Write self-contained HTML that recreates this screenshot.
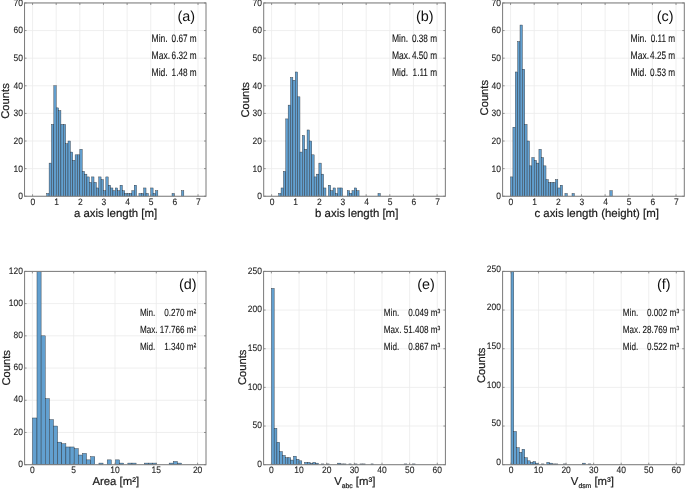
<!DOCTYPE html>
<html><head><meta charset="utf-8"><title>Histograms</title><style>
html,body{margin:0;padding:0;background:#fff;}
body{width:685px;height:489px;overflow:hidden;}
svg{display:block;}
text{font-family:"Liberation Sans", sans-serif;text-rendering:geometricPrecision;}
.tk{font-size:9.3px;fill:#262626;stroke:#262626;stroke-width:0.12px;}
.tkb{font-size:9.2px;fill:#262626;}
.lab{font-size:11.2px;fill:#1a1a1a;stroke:#1a1a1a;stroke-width:0.2px;}
.sub{font-size:6.8px;}
.labx{font-size:11.45px;fill:#1a1a1a;stroke:#1a1a1a;stroke-width:0.2px;}
.labb{font-size:11.35px;fill:#1a1a1a;stroke:#1a1a1a;stroke-width:0.2px;}
.sup{font-size:7.5px;}
.sup2{font-size:6px;}
.stb{font-size:10.3px;fill:#111;stroke:#111;stroke-width:0.1px;}
.let{font-size:14.4px;fill:#111;}
.st{font-size:10.8px;fill:#111;stroke:#111;stroke-width:0.1px;}
</style></head>
<body><svg width="685" height="489" viewBox="0 0 685 489" style="will-change:transform">
<rect width="685" height="489" fill="#fff"/>
<defs><clipPath id="clipa"><rect x="24.55" y="2.95" width="181.45" height="193.3"/></clipPath><clipPath id="clipb"><rect x="263.7" y="2.95" width="181.65" height="193.3"/></clipPath><clipPath id="clipc"><rect x="502.6" y="2.95" width="181.7" height="193.3"/></clipPath><clipPath id="clipd"><rect x="24.6" y="271.4" width="181.4" height="193.3"/></clipPath><clipPath id="clipe"><rect x="263.6" y="271.4" width="181.8" height="193.3"/></clipPath><clipPath id="clipf"><rect x="502.6" y="271.4" width="181.6" height="193.3"/></clipPath></defs>
<path d="M32.55 2.95V196.25M56.19 2.95V196.25M79.83 2.95V196.25M103.47 2.95V196.25M127.11 2.95V196.25M150.75 2.95V196.25M174.39 2.95V196.25M198.03 2.95V196.25M24.55 196.25H206M24.55 168.64H206M24.55 141.02H206M24.55 113.41H206M24.55 85.79H206M24.55 58.18H206M24.55 30.56H206M24.55 2.95H206" stroke="#ebebeb" stroke-width="0.8" fill="none"/>
<g clip-path="url(#clipa)" fill="#62a0d0" stroke="#262a30" stroke-width="0.4"><rect x="46.73" y="193.49" width="2.36" height="2.76"/><rect x="49.1" y="163.11" width="2.36" height="33.14"/><rect x="51.46" y="124.45" width="2.36" height="71.8"/><rect x="53.83" y="85.79" width="2.36" height="110.46"/><rect x="56.19" y="107.88" width="2.36" height="88.37"/><rect x="58.55" y="110.65" width="2.36" height="85.6"/><rect x="60.92" y="124.45" width="2.36" height="71.8"/><rect x="63.28" y="124.45" width="2.36" height="71.8"/><rect x="65.65" y="143.78" width="2.36" height="52.47"/><rect x="68.01" y="141.02" width="2.36" height="55.23"/><rect x="70.37" y="152.07" width="2.36" height="44.18"/><rect x="72.74" y="160.35" width="2.36" height="35.9"/><rect x="75.1" y="154.83" width="2.36" height="41.42"/><rect x="77.47" y="154.83" width="2.36" height="41.42"/><rect x="79.83" y="149.31" width="2.36" height="46.94"/><rect x="82.19" y="171.4" width="2.36" height="24.85"/><rect x="84.56" y="174.16" width="2.36" height="22.09"/><rect x="86.92" y="176.92" width="2.36" height="19.33"/><rect x="89.29" y="182.44" width="2.36" height="13.81"/><rect x="91.65" y="176.92" width="2.36" height="19.33"/><rect x="94.01" y="182.44" width="2.36" height="13.81"/><rect x="96.38" y="187.97" width="2.36" height="8.28"/><rect x="98.74" y="176.92" width="2.36" height="19.33"/><rect x="101.11" y="179.68" width="2.36" height="16.57"/><rect x="103.47" y="190.73" width="2.36" height="5.52"/><rect x="105.83" y="176.92" width="2.36" height="19.33"/><rect x="108.2" y="185.2" width="2.36" height="11.05"/><rect x="110.56" y="187.97" width="2.36" height="8.28"/><rect x="112.93" y="190.73" width="2.36" height="5.52"/><rect x="115.29" y="187.97" width="2.36" height="8.28"/><rect x="117.65" y="190.73" width="2.36" height="5.52"/><rect x="120.02" y="185.2" width="2.36" height="11.05"/><rect x="122.38" y="190.73" width="2.36" height="5.52"/><rect x="124.75" y="193.49" width="2.36" height="2.76"/><rect x="127.11" y="193.49" width="2.36" height="2.76"/><rect x="129.47" y="193.49" width="2.36" height="2.76"/><rect x="131.84" y="190.73" width="2.36" height="5.52"/><rect x="134.2" y="185.2" width="2.36" height="11.05"/><rect x="138.93" y="193.49" width="2.36" height="2.76"/><rect x="141.29" y="193.49" width="2.36" height="2.76"/><rect x="143.66" y="187.97" width="2.36" height="8.28"/><rect x="146.02" y="193.49" width="2.36" height="2.76"/><rect x="150.75" y="187.97" width="2.36" height="8.28"/><rect x="153.11" y="193.49" width="2.36" height="2.76"/><rect x="155.48" y="190.73" width="2.36" height="5.52"/><rect x="172.03" y="193.49" width="2.36" height="2.76"/><rect x="181.48" y="190.73" width="2.36" height="5.52"/></g>
<path d="M32.55 196.25v-2M32.55 2.95v2M56.19 196.25v-2M56.19 2.95v2M79.83 196.25v-2M79.83 2.95v2M103.47 196.25v-2M103.47 2.95v2M127.11 196.25v-2M127.11 2.95v2M150.75 196.25v-2M150.75 2.95v2M174.39 196.25v-2M174.39 2.95v2M198.03 196.25v-2M198.03 2.95v2M24.55 196.25h2M206 196.25h-2M24.55 168.64h2M206 168.64h-2M24.55 141.02h2M206 141.02h-2M24.55 113.41h2M206 113.41h-2M24.55 85.79h2M206 85.79h-2M24.55 58.18h2M206 58.18h-2M24.55 30.56h2M206 30.56h-2M24.55 2.95h2M206 2.95h-2" stroke="#7a7a7a" stroke-width="0.8" fill="none"/>
<rect x="24.55" y="2.95" width="181.45" height="193.3" fill="none" stroke="#7a7a7a" stroke-width="1"/>
<text transform="translate(22.85 199.15) scale(0.91 1)" class="tk" text-anchor="end">0</text>
<text transform="translate(22.85 171.54) scale(0.91 1)" class="tk" text-anchor="end">10</text>
<text transform="translate(22.85 143.92) scale(0.91 1)" class="tk" text-anchor="end">20</text>
<text transform="translate(22.85 116.31) scale(0.91 1)" class="tk" text-anchor="end">30</text>
<text transform="translate(22.85 88.69) scale(0.91 1)" class="tk" text-anchor="end">40</text>
<text transform="translate(22.85 61.08) scale(0.91 1)" class="tk" text-anchor="end">50</text>
<text transform="translate(22.85 33.46) scale(0.91 1)" class="tk" text-anchor="end">60</text>
<text transform="translate(22.85 5.85) scale(0.91 1)" class="tk" text-anchor="end">70</text>
<text transform="translate(32.95 205.15) scale(0.91 1)" class="tk" text-anchor="middle">0</text>
<text transform="translate(56.59 205.15) scale(0.91 1)" class="tk" text-anchor="middle">1</text>
<text transform="translate(80.23 205.15) scale(0.91 1)" class="tk" text-anchor="middle">2</text>
<text transform="translate(103.87 205.15) scale(0.91 1)" class="tk" text-anchor="middle">3</text>
<text transform="translate(127.51 205.15) scale(0.91 1)" class="tk" text-anchor="middle">4</text>
<text transform="translate(151.15 205.15) scale(0.91 1)" class="tk" text-anchor="middle">5</text>
<text transform="translate(174.79 205.15) scale(0.91 1)" class="tk" text-anchor="middle">6</text>
<text transform="translate(198.43 205.15) scale(0.91 1)" class="tk" text-anchor="middle">7</text>
<text class="lab" text-anchor="middle" transform="translate(8.95 101) rotate(-90)">Counts</text>
<text x="115.6" y="216.85" class="labx" text-anchor="middle">a axis length [m]</text>
<text x="177.5" y="21" class="let">(a)</text>
<text transform="translate(151.55 42) scale(0.79 1)" class="st">Min.</text>
<text transform="translate(196.7 42) scale(0.76 1)" class="st" text-anchor="end">0.67 m</text>
<text transform="translate(151.55 59.05) scale(0.79 1)" class="st">Max.</text>
<text transform="translate(196.7 59.05) scale(0.76 1)" class="st" text-anchor="end">6.32 m</text>
<text transform="translate(151.55 76.1) scale(0.79 1)" class="st">Mid.</text>
<text transform="translate(196.7 76.1) scale(0.76 1)" class="st" text-anchor="end">1.48 m</text>
<path d="M271.6 2.95V196.25M295.24 2.95V196.25M318.88 2.95V196.25M342.52 2.95V196.25M366.16 2.95V196.25M389.8 2.95V196.25M413.44 2.95V196.25M437.08 2.95V196.25M263.7 196.25H445.35M263.7 168.64H445.35M263.7 141.02H445.35M263.7 113.41H445.35M263.7 85.79H445.35M263.7 58.18H445.35M263.7 30.56H445.35M263.7 2.95H445.35" stroke="#ebebeb" stroke-width="0.8" fill="none"/>
<g clip-path="url(#clipb)" fill="#62a0d0" stroke="#262a30" stroke-width="0.4"><rect x="278.69" y="193.49" width="2.36" height="2.76"/><rect x="281.06" y="187.97" width="2.36" height="8.28"/><rect x="283.42" y="171.4" width="2.36" height="24.85"/><rect x="285.78" y="118.93" width="2.36" height="77.32"/><rect x="288.15" y="105.12" width="2.36" height="91.13"/><rect x="290.51" y="77.51" width="2.36" height="118.74"/><rect x="292.88" y="80.27" width="2.36" height="115.98"/><rect x="295.24" y="71.99" width="2.36" height="124.26"/><rect x="297.6" y="96.84" width="2.36" height="99.41"/><rect x="299.97" y="152.07" width="2.36" height="44.18"/><rect x="302.33" y="135.5" width="2.36" height="60.75"/><rect x="304.7" y="149.31" width="2.36" height="46.94"/><rect x="307.06" y="129.98" width="2.36" height="66.27"/><rect x="309.42" y="141.02" width="2.36" height="55.23"/><rect x="311.79" y="154.83" width="2.36" height="41.42"/><rect x="314.15" y="176.92" width="2.36" height="19.33"/><rect x="316.52" y="174.16" width="2.36" height="22.09"/><rect x="318.88" y="163.11" width="2.36" height="33.14"/><rect x="321.24" y="174.16" width="2.36" height="22.09"/><rect x="323.61" y="187.97" width="2.36" height="8.28"/><rect x="328.34" y="185.2" width="2.36" height="11.05"/><rect x="330.7" y="190.73" width="2.36" height="5.52"/><rect x="333.06" y="187.97" width="2.36" height="8.28"/><rect x="335.43" y="193.49" width="2.36" height="2.76"/><rect x="337.79" y="187.97" width="2.36" height="8.28"/><rect x="340.16" y="187.97" width="2.36" height="8.28"/><rect x="347.25" y="190.73" width="2.36" height="5.52"/><rect x="349.61" y="193.49" width="2.36" height="2.76"/><rect x="351.98" y="190.73" width="2.36" height="5.52"/><rect x="354.34" y="187.97" width="2.36" height="8.28"/><rect x="356.7" y="190.73" width="2.36" height="5.52"/><rect x="377.98" y="193.49" width="2.36" height="2.76"/></g>
<path d="M271.6 196.25v-2M271.6 2.95v2M295.24 196.25v-2M295.24 2.95v2M318.88 196.25v-2M318.88 2.95v2M342.52 196.25v-2M342.52 2.95v2M366.16 196.25v-2M366.16 2.95v2M389.8 196.25v-2M389.8 2.95v2M413.44 196.25v-2M413.44 2.95v2M437.08 196.25v-2M437.08 2.95v2M263.7 196.25h2M445.35 196.25h-2M263.7 168.64h2M445.35 168.64h-2M263.7 141.02h2M445.35 141.02h-2M263.7 113.41h2M445.35 113.41h-2M263.7 85.79h2M445.35 85.79h-2M263.7 58.18h2M445.35 58.18h-2M263.7 30.56h2M445.35 30.56h-2M263.7 2.95h2M445.35 2.95h-2" stroke="#7a7a7a" stroke-width="0.8" fill="none"/>
<rect x="263.7" y="2.95" width="181.65" height="193.3" fill="none" stroke="#7a7a7a" stroke-width="1"/>
<text transform="translate(262 199.15) scale(0.91 1)" class="tk" text-anchor="end">0</text>
<text transform="translate(262 171.54) scale(0.91 1)" class="tk" text-anchor="end">10</text>
<text transform="translate(262 143.92) scale(0.91 1)" class="tk" text-anchor="end">20</text>
<text transform="translate(262 116.31) scale(0.91 1)" class="tk" text-anchor="end">30</text>
<text transform="translate(262 88.69) scale(0.91 1)" class="tk" text-anchor="end">40</text>
<text transform="translate(262 61.08) scale(0.91 1)" class="tk" text-anchor="end">50</text>
<text transform="translate(262 33.46) scale(0.91 1)" class="tk" text-anchor="end">60</text>
<text transform="translate(262 5.85) scale(0.91 1)" class="tk" text-anchor="end">70</text>
<text transform="translate(272 205.15) scale(0.91 1)" class="tk" text-anchor="middle">0</text>
<text transform="translate(295.64 205.15) scale(0.91 1)" class="tk" text-anchor="middle">1</text>
<text transform="translate(319.28 205.15) scale(0.91 1)" class="tk" text-anchor="middle">2</text>
<text transform="translate(342.92 205.15) scale(0.91 1)" class="tk" text-anchor="middle">3</text>
<text transform="translate(366.56 205.15) scale(0.91 1)" class="tk" text-anchor="middle">4</text>
<text transform="translate(390.2 205.15) scale(0.91 1)" class="tk" text-anchor="middle">5</text>
<text transform="translate(413.84 205.15) scale(0.91 1)" class="tk" text-anchor="middle">6</text>
<text transform="translate(437.48 205.15) scale(0.91 1)" class="tk" text-anchor="middle">7</text>
<text class="lab" text-anchor="middle" transform="translate(248.9 99.8) rotate(-90)">Counts</text>
<text x="356.7" y="216.85" class="labx" text-anchor="middle">b axis length [m]</text>
<text x="416" y="21" class="let">(b)</text>
<text transform="translate(391.9 42) scale(0.79 1)" class="st">Min.</text>
<text transform="translate(437.05 42) scale(0.76 1)" class="st" text-anchor="end">0.38 m</text>
<text transform="translate(391.9 59.05) scale(0.79 1)" class="st">Max.</text>
<text transform="translate(437.05 59.05) scale(0.76 1)" class="st" text-anchor="end">4.50 m</text>
<text transform="translate(391.9 76.1) scale(0.79 1)" class="st">Mid.</text>
<text transform="translate(437.05 76.1) scale(0.76 1)" class="st" text-anchor="end">1.11 m</text>
<path d="M510.55 2.95V196.25M534.19 2.95V196.25M557.83 2.95V196.25M581.47 2.95V196.25M605.11 2.95V196.25M628.75 2.95V196.25M652.39 2.95V196.25M676.03 2.95V196.25M502.6 196.25H684.3M502.6 168.64H684.3M502.6 141.02H684.3M502.6 113.41H684.3M502.6 85.79H684.3M502.6 58.18H684.3M502.6 30.56H684.3M502.6 2.95H684.3" stroke="#ebebeb" stroke-width="0.8" fill="none"/>
<g clip-path="url(#clipc)" fill="#62a0d0" stroke="#262a30" stroke-width="0.4"><rect x="510.55" y="176.92" width="2.36" height="19.33"/><rect x="512.91" y="127.21" width="2.36" height="69.04"/><rect x="515.28" y="71.99" width="2.36" height="124.26"/><rect x="517.64" y="41.61" width="2.36" height="154.64"/><rect x="520.01" y="25.04" width="2.36" height="171.21"/><rect x="522.37" y="69.22" width="2.36" height="127.03"/><rect x="524.73" y="124.45" width="2.36" height="71.8"/><rect x="527.1" y="141.02" width="2.36" height="55.23"/><rect x="529.46" y="165.87" width="2.36" height="30.38"/><rect x="531.83" y="157.59" width="2.36" height="38.66"/><rect x="534.19" y="160.35" width="2.36" height="35.9"/><rect x="536.55" y="163.11" width="2.36" height="33.14"/><rect x="538.92" y="149.31" width="2.36" height="46.94"/><rect x="541.28" y="157.59" width="2.36" height="38.66"/><rect x="543.65" y="165.87" width="2.36" height="30.38"/><rect x="546.01" y="179.68" width="2.36" height="16.57"/><rect x="548.37" y="182.44" width="2.36" height="13.81"/><rect x="550.74" y="182.44" width="2.36" height="13.81"/><rect x="553.1" y="182.44" width="2.36" height="13.81"/><rect x="555.47" y="179.68" width="2.36" height="16.57"/><rect x="557.83" y="187.97" width="2.36" height="8.28"/><rect x="560.19" y="185.2" width="2.36" height="11.05"/><rect x="564.92" y="193.49" width="2.36" height="2.76"/><rect x="572.01" y="193.49" width="2.36" height="2.76"/><rect x="609.84" y="190.73" width="2.36" height="5.52"/></g>
<path d="M510.55 196.25v-2M510.55 2.95v2M534.19 196.25v-2M534.19 2.95v2M557.83 196.25v-2M557.83 2.95v2M581.47 196.25v-2M581.47 2.95v2M605.11 196.25v-2M605.11 2.95v2M628.75 196.25v-2M628.75 2.95v2M652.39 196.25v-2M652.39 2.95v2M676.03 196.25v-2M676.03 2.95v2M502.6 196.25h2M684.3 196.25h-2M502.6 168.64h2M684.3 168.64h-2M502.6 141.02h2M684.3 141.02h-2M502.6 113.41h2M684.3 113.41h-2M502.6 85.79h2M684.3 85.79h-2M502.6 58.18h2M684.3 58.18h-2M502.6 30.56h2M684.3 30.56h-2M502.6 2.95h2M684.3 2.95h-2" stroke="#7a7a7a" stroke-width="0.8" fill="none"/>
<rect x="502.6" y="2.95" width="181.7" height="193.3" fill="none" stroke="#7a7a7a" stroke-width="1"/>
<text transform="translate(500.9 199.15) scale(0.91 1)" class="tk" text-anchor="end">0</text>
<text transform="translate(500.9 171.54) scale(0.91 1)" class="tk" text-anchor="end">10</text>
<text transform="translate(500.9 143.92) scale(0.91 1)" class="tk" text-anchor="end">20</text>
<text transform="translate(500.9 116.31) scale(0.91 1)" class="tk" text-anchor="end">30</text>
<text transform="translate(500.9 88.69) scale(0.91 1)" class="tk" text-anchor="end">40</text>
<text transform="translate(500.9 61.08) scale(0.91 1)" class="tk" text-anchor="end">50</text>
<text transform="translate(500.9 33.46) scale(0.91 1)" class="tk" text-anchor="end">60</text>
<text transform="translate(500.9 5.85) scale(0.91 1)" class="tk" text-anchor="end">70</text>
<text transform="translate(510.95 205.15) scale(0.91 1)" class="tk" text-anchor="middle">0</text>
<text transform="translate(534.59 205.15) scale(0.91 1)" class="tk" text-anchor="middle">1</text>
<text transform="translate(558.23 205.15) scale(0.91 1)" class="tk" text-anchor="middle">2</text>
<text transform="translate(581.87 205.15) scale(0.91 1)" class="tk" text-anchor="middle">3</text>
<text transform="translate(605.51 205.15) scale(0.91 1)" class="tk" text-anchor="middle">4</text>
<text transform="translate(629.15 205.15) scale(0.91 1)" class="tk" text-anchor="middle">5</text>
<text transform="translate(652.79 205.15) scale(0.91 1)" class="tk" text-anchor="middle">6</text>
<text transform="translate(676.43 205.15) scale(0.91 1)" class="tk" text-anchor="middle">7</text>
<text class="lab" text-anchor="middle" transform="translate(488 97.7) rotate(-90)">Counts</text>
<text x="596.7" y="216.85" class="labx" text-anchor="middle">c axis length (height) [m]</text>
<text x="656.7" y="21" class="let">(c)</text>
<text transform="translate(630.6 42) scale(0.79 1)" class="st">Min.</text>
<text transform="translate(675.2 42) scale(0.76 1)" class="st" text-anchor="end">0.11 m</text>
<text transform="translate(630.6 59.05) scale(0.79 1)" class="st">Max.</text>
<text transform="translate(675.2 59.05) scale(0.76 1)" class="st" text-anchor="end">4.25 m</text>
<text transform="translate(630.6 76.1) scale(0.79 1)" class="st">Mid.</text>
<text transform="translate(675.2 76.1) scale(0.76 1)" class="st" text-anchor="end">0.53 m</text>
<path d="M32.4 271.4V464.7M73.7 271.4V464.7M115 271.4V464.7M156.3 271.4V464.7M197.6 271.4V464.7M24.6 464.7H206M24.6 432.48H206M24.6 400.27H206M24.6 368.05H206M24.6 335.83H206M24.6 303.62H206M24.6 271.4H206" stroke="#ebebeb" stroke-width="0.8" fill="none"/>
<g clip-path="url(#clipd)" fill="#62a0d0" stroke="#262a30" stroke-width="0.4"><rect x="32.4" y="417.99" width="4.58" height="46.71"/><rect x="36.98" y="269.4" width="4.13" height="195.3"/><rect x="41.11" y="335.83" width="4.13" height="128.87"/><rect x="45.24" y="398.66" width="4.13" height="66.04"/><rect x="49.37" y="419.6" width="4.13" height="45.1"/><rect x="53.5" y="426.04" width="4.13" height="38.66"/><rect x="57.63" y="442.15" width="4.13" height="22.55"/><rect x="61.76" y="443.76" width="4.13" height="20.94"/><rect x="65.89" y="446.98" width="4.13" height="17.72"/><rect x="70.02" y="446.98" width="4.13" height="17.72"/><rect x="74.15" y="448.59" width="4.13" height="16.11"/><rect x="78.28" y="455.03" width="4.13" height="9.66"/><rect x="82.41" y="453.42" width="4.13" height="11.28"/><rect x="86.54" y="459.87" width="4.13" height="4.83"/><rect x="90.67" y="456.65" width="4.13" height="8.05"/><rect x="98.93" y="463.09" width="4.13" height="1.61"/><rect x="107.19" y="459.87" width="4.13" height="4.83"/><rect x="115.45" y="459.87" width="4.13" height="4.83"/><rect x="119.58" y="463.09" width="4.13" height="1.61"/><rect x="127.84" y="463.09" width="4.13" height="1.61"/><rect x="131.97" y="463.09" width="4.13" height="1.61"/><rect x="144.36" y="463.09" width="4.13" height="1.61"/><rect x="148.49" y="463.09" width="4.13" height="1.61"/><rect x="152.62" y="463.09" width="4.13" height="1.61"/><rect x="169.14" y="463.09" width="4.13" height="1.61"/><rect x="173.27" y="461.48" width="4.13" height="3.22"/><rect x="177.4" y="463.09" width="4.13" height="1.61"/></g>
<path d="M32.4 464.7v-2M32.4 271.4v2M73.7 464.7v-2M73.7 271.4v2M115 464.7v-2M115 271.4v2M156.3 464.7v-2M156.3 271.4v2M197.6 464.7v-2M197.6 271.4v2M24.6 464.7h2M206 464.7h-2M24.6 432.48h2M206 432.48h-2M24.6 400.27h2M206 400.27h-2M24.6 368.05h2M206 368.05h-2M24.6 335.83h2M206 335.83h-2M24.6 303.62h2M206 303.62h-2M24.6 271.4h2M206 271.4h-2" stroke="#7a7a7a" stroke-width="0.8" fill="none"/>
<rect x="24.6" y="271.4" width="181.4" height="193.3" fill="none" stroke="#7a7a7a" stroke-width="1"/>
<text transform="translate(22.9 466.9) scale(0.91 1)" class="tk" text-anchor="end">0</text>
<text transform="translate(22.9 434.68) scale(0.91 1)" class="tk" text-anchor="end">20</text>
<text transform="translate(22.9 402.47) scale(0.91 1)" class="tk" text-anchor="end">40</text>
<text transform="translate(22.9 370.25) scale(0.91 1)" class="tk" text-anchor="end">60</text>
<text transform="translate(22.9 338.03) scale(0.91 1)" class="tk" text-anchor="end">80</text>
<text transform="translate(22.9 305.82) scale(0.91 1)" class="tk" text-anchor="end">100</text>
<text transform="translate(22.9 273.6) scale(0.91 1)" class="tk" text-anchor="end">120</text>
<text transform="translate(32.4 473) scale(0.91 1)" class="tk" text-anchor="middle">0</text>
<text transform="translate(73.7 473) scale(0.91 1)" class="tk" text-anchor="middle">5</text>
<text transform="translate(115 473) scale(0.91 1)" class="tk" text-anchor="middle">10</text>
<text transform="translate(156.3 473) scale(0.91 1)" class="tk" text-anchor="middle">15</text>
<text transform="translate(197.6 473) scale(0.91 1)" class="tk" text-anchor="middle">20</text>
<text class="lab" text-anchor="middle" transform="translate(10 367.8) rotate(-90)">Counts</text>
<text x="115.8" y="484.5" class="labb" text-anchor="middle">Area [m²]</text>
<text x="179" y="288.8" class="let">(d)</text>
<text transform="translate(139.9 315.9) scale(0.79 1)" class="stb">Min.</text>
<text transform="translate(196.3 315.9) scale(0.79 1)" class="stb" text-anchor="end">0.270 m²</text>
<text transform="translate(139.9 333.1) scale(0.79 1)" class="stb">Max.</text>
<text transform="translate(196.3 333.1) scale(0.79 1)" class="stb" text-anchor="end">17.766 m²</text>
<text transform="translate(139.9 350.3) scale(0.79 1)" class="stb">Mid.</text>
<text transform="translate(196.3 350.3) scale(0.79 1)" class="stb" text-anchor="end">1.340 m²</text>
<path d="M271.4 271.4V464.7M299.05 271.4V464.7M326.7 271.4V464.7M354.35 271.4V464.7M382 271.4V464.7M409.65 271.4V464.7M437.3 271.4V464.7M263.6 464.7H445.4M263.6 426.04H445.4M263.6 387.38H445.4M263.6 348.72H445.4M263.6 310.06H445.4M263.6 271.4H445.4" stroke="#ebebeb" stroke-width="0.8" fill="none"/>
<g clip-path="url(#clipe)" fill="#62a0d0" stroke="#262a30" stroke-width="0.4"><rect x="271.4" y="288.41" width="2.77" height="176.29"/><rect x="274.16" y="428.36" width="2.77" height="36.34"/><rect x="276.93" y="442.28" width="2.77" height="22.42"/><rect x="279.69" y="451.56" width="2.77" height="13.14"/><rect x="282.46" y="455.42" width="2.77" height="9.28"/><rect x="285.22" y="457.74" width="2.77" height="6.96"/><rect x="287.99" y="457.74" width="2.77" height="6.96"/><rect x="290.75" y="460.06" width="2.77" height="4.64"/><rect x="293.52" y="456.19" width="2.77" height="8.51"/><rect x="296.28" y="459.29" width="2.77" height="5.41"/><rect x="299.05" y="460.83" width="2.77" height="3.87"/><rect x="304.58" y="462.38" width="2.77" height="2.32"/><rect x="307.34" y="462.38" width="2.77" height="2.32"/><rect x="310.11" y="463.15" width="2.77" height="1.55"/><rect x="312.88" y="462.38" width="2.77" height="2.32"/><rect x="315.64" y="463.15" width="2.77" height="1.55"/><rect x="321.17" y="463.93" width="2.77" height="0.77"/><rect x="326.7" y="463.93" width="2.77" height="0.77"/><rect x="337.76" y="463.15" width="2.77" height="1.55"/><rect x="340.52" y="463.93" width="2.77" height="0.77"/><rect x="343.29" y="463.93" width="2.77" height="0.77"/><rect x="348.82" y="463.93" width="2.77" height="0.77"/><rect x="354.35" y="463.93" width="2.77" height="0.77"/><rect x="359.88" y="463.93" width="2.77" height="0.77"/><rect x="362.64" y="463.93" width="2.77" height="0.77"/><rect x="370.94" y="463.93" width="2.77" height="0.77"/><rect x="404.12" y="463.93" width="2.77" height="0.77"/><rect x="412.41" y="463.93" width="2.77" height="0.77"/></g>
<path d="M271.4 464.7v-2M271.4 271.4v2M299.05 464.7v-2M299.05 271.4v2M326.7 464.7v-2M326.7 271.4v2M354.35 464.7v-2M354.35 271.4v2M382 464.7v-2M382 271.4v2M409.65 464.7v-2M409.65 271.4v2M437.3 464.7v-2M437.3 271.4v2M263.6 464.7h2M445.4 464.7h-2M263.6 426.04h2M445.4 426.04h-2M263.6 387.38h2M445.4 387.38h-2M263.6 348.72h2M445.4 348.72h-2M263.6 310.06h2M445.4 310.06h-2M263.6 271.4h2M445.4 271.4h-2" stroke="#7a7a7a" stroke-width="0.8" fill="none"/>
<rect x="263.6" y="271.4" width="181.8" height="193.3" fill="none" stroke="#7a7a7a" stroke-width="1"/>
<text transform="translate(261.9 466.9) scale(0.91 1)" class="tk" text-anchor="end">0</text>
<text transform="translate(261.9 428.24) scale(0.91 1)" class="tk" text-anchor="end">50</text>
<text transform="translate(261.9 389.58) scale(0.91 1)" class="tk" text-anchor="end">100</text>
<text transform="translate(261.9 350.92) scale(0.91 1)" class="tk" text-anchor="end">150</text>
<text transform="translate(261.9 312.26) scale(0.91 1)" class="tk" text-anchor="end">200</text>
<text transform="translate(261.9 273.6) scale(0.91 1)" class="tk" text-anchor="end">250</text>
<text transform="translate(271.4 473) scale(0.91 1)" class="tk" text-anchor="middle">0</text>
<text transform="translate(299.05 473) scale(0.91 1)" class="tk" text-anchor="middle">10</text>
<text transform="translate(326.7 473) scale(0.91 1)" class="tk" text-anchor="middle">20</text>
<text transform="translate(354.35 473) scale(0.91 1)" class="tk" text-anchor="middle">30</text>
<text transform="translate(382 473) scale(0.91 1)" class="tk" text-anchor="middle">40</text>
<text transform="translate(409.65 473) scale(0.91 1)" class="tk" text-anchor="middle">50</text>
<text transform="translate(437.3 473) scale(0.91 1)" class="tk" text-anchor="middle">60</text>
<text class="lab" text-anchor="middle" transform="translate(246 367.3) rotate(-90)">Counts</text>
<text x="354.8" y="484.5" class="labb" text-anchor="middle">V<tspan class="sub" dy="3.9">abc</tspan><tspan dy="-3.9"> [m³]</tspan></text>
<text x="417.2" y="288.8" class="let">(e)</text>
<text transform="translate(383.8 315.9) scale(0.79 1)" class="stb">Min.</text>
<text transform="translate(440.3 315.9) scale(0.79 1)" class="stb" text-anchor="end">0.049 m³</text>
<text transform="translate(383.8 333.1) scale(0.79 1)" class="stb">Max.</text>
<text transform="translate(440.3 333.1) scale(0.79 1)" class="stb" text-anchor="end">51.408 m³</text>
<text transform="translate(383.8 350.3) scale(0.79 1)" class="stb">Mid.</text>
<text transform="translate(440.3 350.3) scale(0.79 1)" class="stb" text-anchor="end">0.867 m³</text>
<path d="M511 271.4V464.7M538.55 271.4V464.7M566.1 271.4V464.7M593.65 271.4V464.7M621.2 271.4V464.7M648.75 271.4V464.7M676.3 271.4V464.7M502.6 464.7H684.2M502.6 426.04H684.2M502.6 387.38H684.2M502.6 348.72H684.2M502.6 310.06H684.2M502.6 271.4H684.2" stroke="#ebebeb" stroke-width="0.8" fill="none"/>
<g clip-path="url(#clipf)" fill="#62a0d0" stroke="#262a30" stroke-width="0.4"><rect x="511" y="269.4" width="2.75" height="195.3"/><rect x="513.75" y="431.45" width="2.75" height="33.25"/><rect x="516.51" y="447.69" width="2.75" height="17.01"/><rect x="519.26" y="452.33" width="2.75" height="12.37"/><rect x="522.02" y="449.24" width="2.75" height="15.46"/><rect x="524.77" y="457.74" width="2.75" height="6.96"/><rect x="527.53" y="460.83" width="2.75" height="3.87"/><rect x="530.28" y="462.38" width="2.75" height="2.32"/><rect x="533.04" y="461.61" width="2.75" height="3.09"/><rect x="535.79" y="463.15" width="2.75" height="1.55"/><rect x="541.3" y="463.93" width="2.75" height="0.77"/><rect x="546.82" y="462.38" width="2.75" height="2.32"/><rect x="549.57" y="463.15" width="2.75" height="1.55"/><rect x="552.33" y="463.93" width="2.75" height="0.77"/><rect x="555.08" y="463.93" width="2.75" height="0.77"/><rect x="563.35" y="463.93" width="2.75" height="0.77"/><rect x="582.63" y="463.15" width="2.75" height="1.55"/><rect x="588.14" y="463.93" width="2.75" height="0.77"/></g>
<path d="M511 464.7v-2M511 271.4v2M538.55 464.7v-2M538.55 271.4v2M566.1 464.7v-2M566.1 271.4v2M593.65 464.7v-2M593.65 271.4v2M621.2 464.7v-2M621.2 271.4v2M648.75 464.7v-2M648.75 271.4v2M676.3 464.7v-2M676.3 271.4v2M502.6 464.7h2M684.2 464.7h-2M502.6 426.04h2M684.2 426.04h-2M502.6 387.38h2M684.2 387.38h-2M502.6 348.72h2M684.2 348.72h-2M502.6 310.06h2M684.2 310.06h-2M502.6 271.4h2M684.2 271.4h-2" stroke="#7a7a7a" stroke-width="0.8" fill="none"/>
<rect x="502.6" y="271.4" width="181.6" height="193.3" fill="none" stroke="#7a7a7a" stroke-width="1"/>
<text transform="translate(500.9 464.9) scale(0.91 1)" class="tk" text-anchor="end">0</text>
<text transform="translate(500.9 426.24) scale(0.91 1)" class="tk" text-anchor="end">50</text>
<text transform="translate(500.9 387.58) scale(0.91 1)" class="tk" text-anchor="end">100</text>
<text transform="translate(500.9 348.92) scale(0.91 1)" class="tk" text-anchor="end">150</text>
<text transform="translate(500.9 310.26) scale(0.91 1)" class="tk" text-anchor="end">200</text>
<text transform="translate(500.9 271.6) scale(0.91 1)" class="tk" text-anchor="end">250</text>
<text transform="translate(511 473) scale(0.91 1)" class="tk" text-anchor="middle">0</text>
<text transform="translate(538.55 473) scale(0.91 1)" class="tk" text-anchor="middle">10</text>
<text transform="translate(566.1 473) scale(0.91 1)" class="tk" text-anchor="middle">20</text>
<text transform="translate(593.65 473) scale(0.91 1)" class="tk" text-anchor="middle">30</text>
<text transform="translate(621.2 473) scale(0.91 1)" class="tk" text-anchor="middle">40</text>
<text transform="translate(648.75 473) scale(0.91 1)" class="tk" text-anchor="middle">50</text>
<text transform="translate(676.3 473) scale(0.91 1)" class="tk" text-anchor="middle">60</text>
<text class="lab" text-anchor="middle" transform="translate(485.1 365.3) rotate(-90)">Counts</text>
<text x="592.4" y="484.5" class="labb" text-anchor="middle">V<tspan class="sub" dy="3.9">dsm</tspan><tspan dy="-3.9"> [m³]</tspan></text>
<text x="657" y="288.8" class="let">(f)</text>
<text transform="translate(622.8 315.9) scale(0.79 1)" class="stb">Min.</text>
<text transform="translate(679.1 315.9) scale(0.79 1)" class="stb" text-anchor="end">0.002 m³</text>
<text transform="translate(622.8 333.1) scale(0.79 1)" class="stb">Max.</text>
<text transform="translate(679.1 333.1) scale(0.79 1)" class="stb" text-anchor="end">28.769 m³</text>
<text transform="translate(622.8 350.3) scale(0.79 1)" class="stb">Mid.</text>
<text transform="translate(679.1 350.3) scale(0.79 1)" class="stb" text-anchor="end">0.522 m³</text>
</svg></body></html>
